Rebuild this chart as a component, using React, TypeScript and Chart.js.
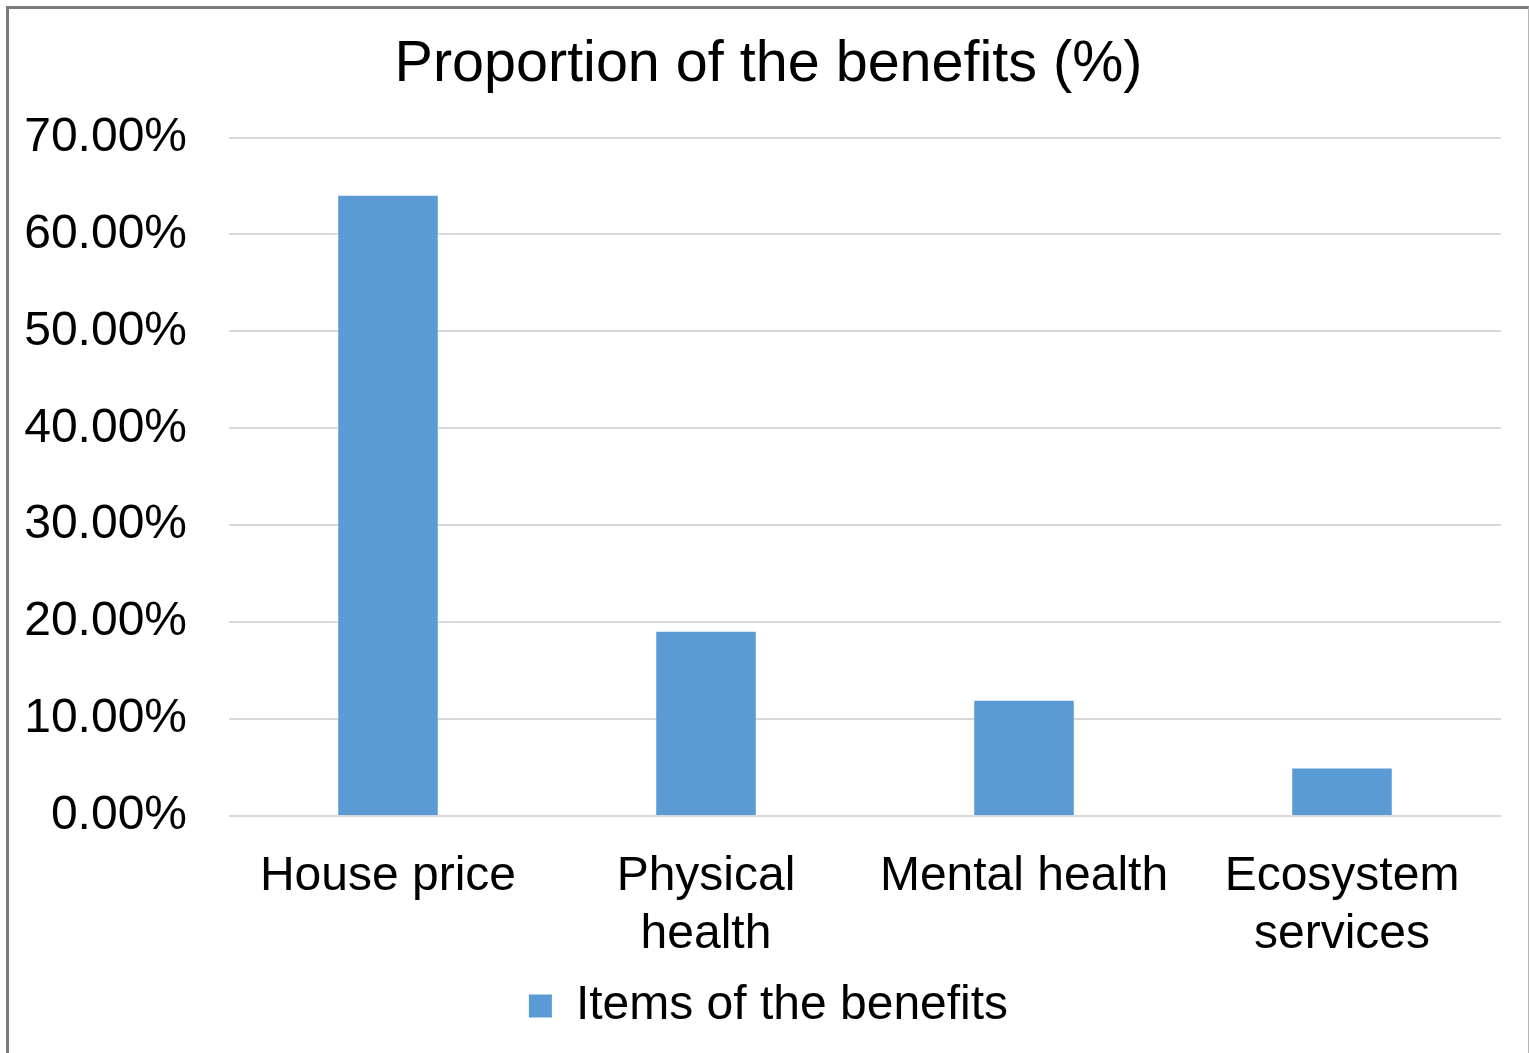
import React, { useEffect, useRef } from "react";
import { Chart, registerables } from "chart.js";

Chart.register(...registerables);

const categories: (string | string[])[] = [
  "House price",
  ["Physical", "health"],
  "Mental health",
  ["Ecosystem", "services"],
];
const seriesLabel = "Items of the benefits";
const seriesValues = [64.0, 19.0, 11.9, 4.9];
const chartTitle = "Proportion of the benefits (%)";
const yTickMin = 0;
const yTickMax = 70;
const yTickStep = 10;

const FONT = "'Liberation Sans', Arial, sans-serif";

export default function App() {
  const ref = useRef<HTMLCanvasElement | null>(null);

  useEffect(() => {
    if (!ref.current) return;
    const chart = new Chart(ref.current, {
      type: "bar",
      data: {
        labels: categories,
        datasets: [
          {
            label: seriesLabel,
            data: seriesValues,
            backgroundColor: "#5b9bd5",
            borderWidth: 0,
            categoryPercentage: 1,
            barPercentage: 0.313,
          },
        ],
      },
      options: {
        responsive: false,
        animation: false,
        layout: { padding: { top: 0, right: 0, bottom: 13, left: 0 } },
        plugins: {
          tooltip: { enabled: false },
          title: {
            display: true,
            text: chartTitle,
            color: "#000",
            font: { family: FONT, size: 57.5, weight: "normal", lineHeight: 1.2 },
            padding: { top: 22, bottom: 37.5 },
          },
          legend: {
            display: true,
            position: "bottom",
            labels: {
              color: "#000",
              font: { family: FONT, size: 48, lineHeight: 1.2 },
              boxWidth: 23,
              boxHeight: 23,
              padding: 10,
            },
          },
        },
        scales: {
          x: {
            grid: { display: false, drawTicks: false },
            border: { display: false },
            ticks: {
              color: "#000",
              font: { family: FONT, size: 48, lineHeight: 1.2 },
              padding: 32,
              maxRotation: 0,
              autoSkip: false,
            },
            afterFit: (s: any) => {
              s.height = 156;
            },
          },
          y: {
            min: yTickMin,
            max: yTickMax,
            grid: { color: "#d9d9d9", lineWidth: 2, drawTicks: false },
            border: { display: false },
            ticks: {
              stepSize: yTickStep,
              color: "#000",
              font: { family: FONT, size: 48 },
              padding: 42,
              callback: (v: any) => Number(v).toFixed(2) + "%",
            },
            afterFit: (s: any) => {
              s.width = 220;
            },
          },
          yRightSpacer: {
            type: "linear",
            position: "right",
            display: true,
            grid: { display: false, drawTicks: false },
            border: { display: false },
            ticks: { display: false },
            afterFit: (s: any) => {
              s.width = 27;
            },
          },
        },
      },
    });
    return () => chart.destroy();
  }, []);

  return (
    <div
      style={{
        position: "fixed",
        left: 6,
        top: 6,
        width: 1519,
        height: 1100,
        borderLeft: "3px solid #7a7a7a",
        borderTop: "3px solid #7a7a7a",
        borderRight: "1px solid #b5b5b5",
        background: "#fff",
      }}
    >
      <canvas ref={ref} width={1519} height={1044} style={{ display: "block" }} />
    </div>
  );
}
